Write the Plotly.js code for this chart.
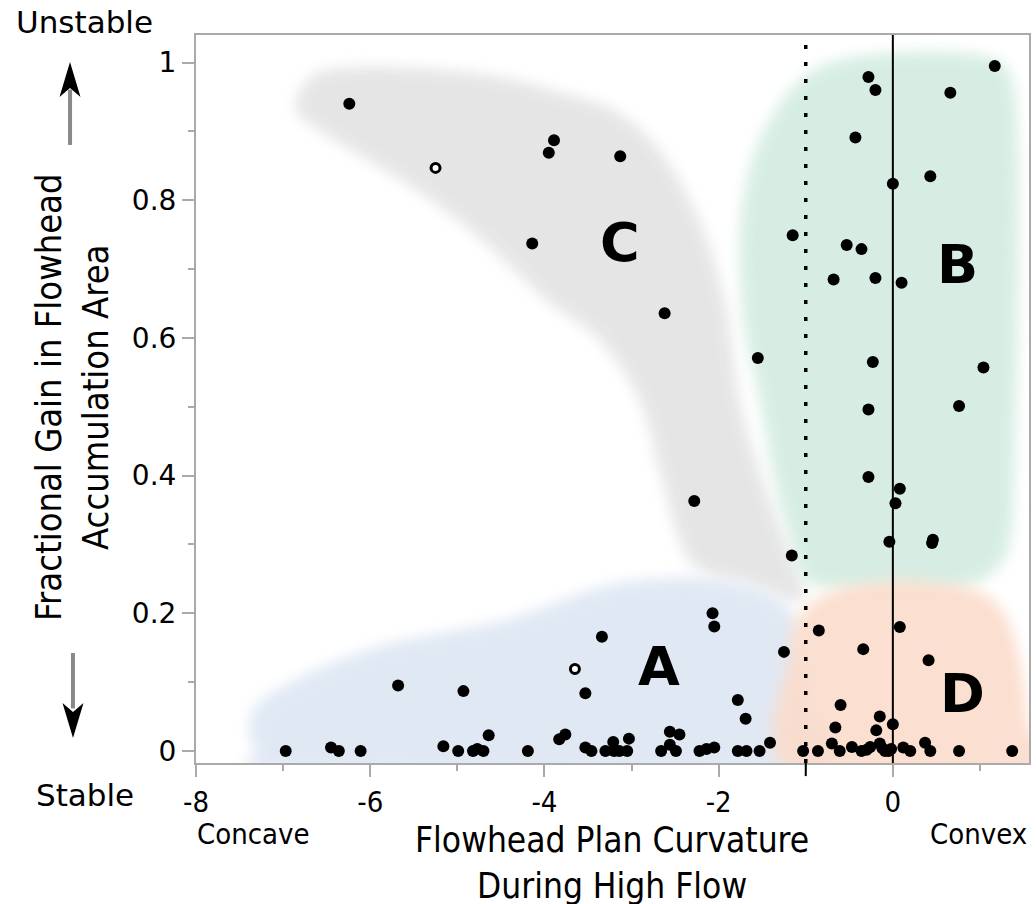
<!DOCTYPE html>
<html>
<head>
<meta charset="utf-8">
<script src="https://cdn.plot.ly/plotly-3.0.1.min.js"></script>
<style>
  html, body { margin: 0; padding: 0; background: #fff; }
  #chart { width: 1036px; height: 904px; }
</style>
</head>
<body>
<div id="chart"></div>
<script>
// ---- data ----
// filled flowhead points: plan curvature (x) and fractional gain (y)
const curvature = [
  -6.24, -3.89, -3.95, -4.14, -3.13, -2.62, -2.28, -1.55, -1.15, -1.16,
  -0.28, -0.20, 1.17, 0.66, -0.43, 0.00, 0.43, -0.53, -0.36, -0.68,
  -0.20, 0.10, -0.23, 1.04, -0.28, 0.76, -0.28, 0.08, 0.03, -0.04,
  0.45, 0.46,
  -2.07, -2.05, -3.34, -1.25, -5.68, -4.93, -3.53, -1.78, -1.69,
  -0.85, 0.08, -0.34, 0.41, -0.60, -0.66, -0.15, -0.19, 0.00, 0.37,
  -6.97, -6.45, -6.36, -6.11, -5.16, -4.99, -4.82, -4.77, -4.70, -4.64,
  -4.19, -3.83, -3.76, -3.53, -3.46, -3.30, -3.21, -3.14, -3.03, -3.05,
  -3.20, -2.66, -2.56, -2.45, -2.56, -2.49, -2.22, -2.14, -2.05, -1.78,
  -1.68, -1.53, -1.41, -1.03,
  -0.86, -0.70, -0.61, -0.47, -0.36, -0.26, -0.15, -0.09, -0.05, 0.12,
  0.20, 0.43, 0.76, 1.37, -0.30, -0.12, -0.02
];
const gain = [
  0.940, 0.887, 0.869, 0.737, 0.864, 0.636, 0.363, 0.571, 0.749, 0.284,
  0.979, 0.960, 0.995, 0.956, 0.891, 0.824, 0.835, 0.735, 0.729, 0.685,
  0.687, 0.680, 0.565, 0.557, 0.496, 0.501, 0.398, 0.381, 0.360, 0.304,
  0.302, 0.307,
  0.200, 0.181, 0.166, 0.144, 0.095, 0.087, 0.084, 0.074, 0.047,
  0.175, 0.180, 0.148, 0.132, 0.067, 0.034, 0.050, 0.030, 0.039, 0.012,
  0.000, 0.005, 0.000, 0.000, 0.007, 0.000, 0.000, 0.003, 0.000, 0.023,
  0.000, 0.017, 0.024, 0.005, 0.000, 0.000, 0.013, 0.000, 0.018, 0.000,
  0.000, 0.000, 0.028, 0.024, 0.009, 0.000, 0.000, 0.003, 0.005, 0.000,
  0.000, 0.000, 0.012, 0.000,
  0.000, 0.011, 0.000, 0.006, 0.000, 0.006, 0.011, 0.000, 0.000, 0.005,
  0.000, 0.000, 0.000, 0.000, 0.002, 0.004, 0.003
];
// open (hollow) points
const openCurvature = [-5.25, -3.65];
const openGain = [0.847, 0.119];

// axis ticks
const xTickVals = [-8, -6, -4, -2, 0];
const xTickText = ['-8', '-6', '-4', '-2', '0'];
const yTickVals = [0, 0.2, 0.4, 0.6, 0.8, 1];
const yTickText = ['0', '0.2', '0.4', '0.6', '0.8', '1'];
const xRange = [-8, 1.563];
const yRange = [-0.0174, 1.040];

// region outlines (data units)
const regionCx = [-6.85,-6.70,-6.36,-5.44,-4.52,-3.83,-3.20,-2.68,-2.22,-1.93,-1.76,-1.53,-1.24,-1.01,-1.18,-1.64,-2.22,-2.45,-2.68,-2.91,-3.37,-3.98,-4.75,-5.52,-6.28,-6.59,-6.82];
const regionCy = [0.945,0.977,0.992,0.992,0.979,0.957,0.931,0.873,0.771,0.655,0.510,0.408,0.306,0.227,0.219,0.241,0.263,0.306,0.408,0.510,0.597,0.655,0.746,0.819,0.877,0.902,0.923];
const regionBx = [-1.53,-1.18,-0.72,0.08,1.00,1.35,1.44,1.44,1.40,1.35,1.12,0.66,0.08,-0.49,-1.01,-1.18,-1.36,-1.53,-1.70,-1.76,-1.70];
const regionBy = [0.887,0.960,1.000,1.015,1.011,0.982,0.873,0.655,0.437,0.306,0.256,0.234,0.234,0.234,0.248,0.306,0.393,0.510,0.611,0.727,0.815];
const regionAx = [-7.39,-7.30,-6.93,-1.07,-1.01,-1.07,-1.18,-1.53,-2.22,-3.25,-4.37,-5.13,-5.90,-6.67,-7.24];
const regionAy = [0.038,-0.001,-0.030,-0.030,0.074,0.161,0.205,0.234,0.251,0.241,0.193,0.173,0.152,0.115,0.074];
const regionDx = [-1.18,-1.18,-1.07,-0.72,-0.15,0.43,1.00,1.29,1.46,1.54,1.54];
const regionDy = [-0.030,0.147,0.197,0.231,0.245,0.245,0.231,0.197,0.132,0.045,-0.030];

const regionLabels = ['A', 'B', 'C', 'D'];
const regionLabelX = [-2.68, 0.74, -3.13, 0.80];
const regionLabelY = [0.123, 0.706, 0.738, 0.084];

// ---- helpers ----
function smoothPath(xs, ys) {
  const n = xs.length;
  const P = (i) => [xs[(i + n) % n], ys[(i + n) % n]];
  let d = 'M' + xs[0] + ',' + ys[0];
  for (let i = 0; i < n; i++) {
    const p0 = P(i - 1), p1 = P(i), p2 = P(i + 1), p3 = P(i + 2);
    const c1 = [p1[0] + (p2[0] - p0[0]) / 6, p1[1] + (p2[1] - p0[1]) / 6];
    const c2 = [p2[0] - (p3[0] - p1[0]) / 6, p2[1] - (p3[1] - p1[1]) / 6];
    d += ' C' + c1[0].toFixed(4) + ',' + c1[1].toFixed(4) + ' ' +
         c2[0].toFixed(4) + ',' + c2[1].toFixed(4) + ' ' +
         p2[0].toFixed(4) + ',' + p2[1].toFixed(4);
  }
  return d + ' Z';
}
function region(xs, ys, color) {
  return { type: 'path', xref: 'x', yref: 'y', layer: 'below',
           path: smoothPath(xs, ys), fillcolor: color, opacity: 0.9,
           line: { width: 0 } };
}
function polyPaper(xs, ys) {
  return 'M' + xs.map((x, i) => x + ',' + ys[i]).join(' L') + ' Z';
}

const traces = [
  { type: 'scatter', mode: 'markers', x: curvature, y: gain,
    marker: { size: 12, color: '#000', line: { width: 0 } },
    hoverinfo: 'x+y', showlegend: false, cliponaxis: false },
  { type: 'scatter', mode: 'markers', x: openCurvature, y: openGain,
    marker: { size: 9, color: '#fff', line: { width: 3, color: '#000' } },
    hoverinfo: 'x+y', showlegend: false }
];

const shapes = [
  region(regionCx, regionCy, '#e3e3e3'),
  region(regionAx, regionAy, '#dde6f3'),
  region(regionBx, regionBy, '#d3ece0'),
  region(regionDx, regionDy, '#fbdccb'),
  { type: 'line', xref: 'x', yref: 'y', x0: 0, x1: 0, y0: yRange[0], y1: yRange[1],
    layer: 'below', line: { color: '#000', width: 2 } },
  { type: 'line', xref: 'x', yref: 'y', x0: -1, x1: -1, y0: yRange[0], y1: yRange[1],
    layer: 'below', line: { color: '#000', width: 3.5, dash: '4px,13px' } },
  { type: 'line', xref: 'x', yref: 'paper', x0: -1, x1: -1, y0: -0.018, y1: 0,
    layer: 'above', line: { color: '#000', width: 2 } },
  // stability arrows: grey shafts and black heads (paper units)
  { type: 'line', xref: 'paper', yref: 'paper', x0: -0.1512, x1: -0.1512,
    y0: 0.849, y1: 0.925, line: { color: '#888', width: 4 } },
  { type: 'line', xref: 'paper', yref: 'paper', x0: -0.1477, x1: -0.1477,
    y0: 0.151, y1: 0.075, line: { color: '#888', width: 4 } },
  { type: 'path', xref: 'paper', yref: 'paper', fillcolor: '#000', line: { width: 0 },
    path: polyPaper([-0.15126, -0.16387, -0.15126, -0.13865], [0.9629, 0.9148, 0.9272, 0.9148]) },
  { type: 'path', xref: 'paper', yref: 'paper', fillcolor: '#000', line: { width: 0 },
    path: polyPaper([-0.14766, -0.16027, -0.14766, -0.13505], [0.0343, 0.0824, 0.0700, 0.0824]) }
];

const condensed = 'DejaVu Sans Condensed, DejaVu Sans, sans-serif';
const regular = 'DejaVu Sans, sans-serif';

const annotations = regionLabels.map((t, i) => ({
  text: t, x: regionLabelX[i], y: regionLabelY[i], xref: 'x', yref: 'y',
  xanchor: 'center', yanchor: 'middle',
  showarrow: false, font: { family: regular, size: 54, weight: 'bold', color: '#000' }
}));
function paperText(text, x, y, family, size, extra) {
  return Object.assign({ text: text, xref: 'paper', yref: 'paper', x: x, y: y,
    xanchor: 'center', yanchor: 'middle', showarrow: false, align: 'center',
    font: { family: family, size: size, color: '#000' } }, extra || {});
}
annotations.push(
  paperText('Unstable', -0.1333, 1.0179, regular, 31),
  paperText('Stable', -0.1333, -0.044, regular, 31),
  paperText('Concave', 0.0696, -0.0975, condensed, 29),
  paperText('Convex', 0.9388, -0.0975, condensed, 29),
  paperText('Flowhead Plan Curvature<br>During High Flow', 0.4994, -0.138, condensed, 35),
  paperText('Fractional Gain in Flowhead<br>Accumulation Area', -0.1489, 0.5027, condensed, 36,
            { textangle: -90 })
);

const axisCommon = {
  showline: true, mirror: true, linecolor: '#aaaaaa', linewidth: 2,
  ticks: 'outside', ticklen: 12, tickwidth: 2, tickcolor: '#aaaaaa',
  showgrid: false, zeroline: false, tickmode: 'array'
};

const layout = {
  width: 1036, height: 904,
  margin: { l: 196, r: 7, t: 35, b: 141 },
  paper_bgcolor: '#fff', plot_bgcolor: '#fff',
  showlegend: false,
  xaxis: Object.assign({}, axisCommon, {
    range: xRange, tickvals: xTickVals, ticktext: xTickText,
    tickfont: { family: condensed, size: 29, color: '#000' },
    minor: { dtick: 1, ticks: 'outside', ticklen: 6, tickwidth: 2, tickcolor: '#aaaaaa' }
  }),
  yaxis: Object.assign({}, axisCommon, {
    range: yRange, tickvals: yTickVals, ticktext: yTickText,
    tickfont: { family: regular, size: 28, color: '#000' },
    minor: { dtick: 0.1, ticks: 'outside', ticklen: 6, tickwidth: 2, tickcolor: '#aaaaaa' }
  }),
  shapes: shapes,
  annotations: annotations
};

Plotly.newPlot('chart', traces, layout, { staticPlot: true }).then(function (gd) {
  // soften the region edges with a blur filter
  const svg = gd.querySelector('svg.main-svg');
  const ns = 'http://www.w3.org/2000/svg';
  let defs = svg.querySelector('defs');
  if (!defs) { defs = document.createElementNS(ns, 'defs'); svg.insertBefore(defs, svg.firstChild); }
  const f = document.createElementNS(ns, 'filter');
  f.setAttribute('id', 'softEdge');
  f.setAttribute('x', '-30%'); f.setAttribute('y', '-30%');
  f.setAttribute('width', '160%'); f.setAttribute('height', '160%');
  const b = document.createElementNS(ns, 'feGaussianBlur');
  b.setAttribute('stdDeviation', '7');
  f.appendChild(b); defs.appendChild(f);
  gd.querySelectorAll('.shapelayer path[data-index]').forEach(function (p) {
    if (Number(p.getAttribute('data-index')) < 4) p.setAttribute('filter', 'url(#softEdge)');
  });
});
</script>
</body>
</html>
